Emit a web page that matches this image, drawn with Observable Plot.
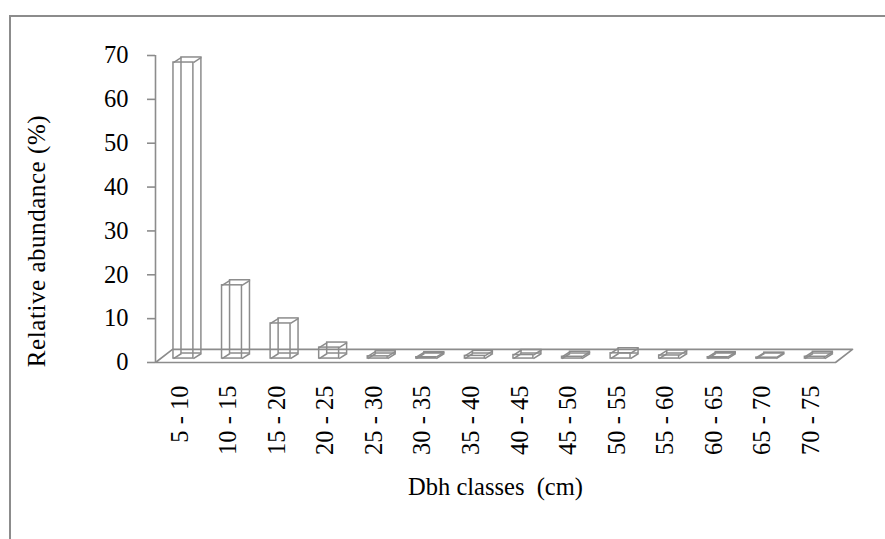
<!DOCTYPE html>
<html>
<head>
<meta charset="utf-8">
<script src="https://cdn.jsdelivr.net/npm/d3@7"></script>
<script src="https://cdn.jsdelivr.net/npm/@observablehq/plot@0.6"></script>
<style>
  html, body { margin: 0; padding: 0; background: #fff; overflow: hidden; }
  #frame { position: absolute; left: 9px; top: 15px; width: 900px; height: 560px; border: 2px solid #8c8c8c; box-sizing: border-box; }
  #chart { position: absolute; left: 0; top: 0; }
  #chart svg { font-family: "Liberation Serif", "Times New Roman", serif; }
</style>
</head>
<body>
<div id="frame"></div>
<div id="chart"></div>
<script>
// ---- data ----
const categories = ["5 - 10", "10 - 15", "15 - 20", "20 - 25", "25 - 30", "30 - 35", "35 - 40",
  "40 - 45", "45 - 50", "50 - 55", "55 - 60", "60 - 65", "65 - 70", "70 - 75"];
const values = [67.5, 16.7, 8.0, 2.5, 0.5, 0.3, 0.6, 0.8, 0.4, 1.2, 0.7, 0.3, 0.2, 0.4];
const yTicks = [0, 10, 20, 30, 40, 50, 60, 70];
const xTitle = "Dbh classes  (cm)";
const yTitle = "Relative abundance (%)";

// ---- 3D look (style constants) ----
const gray = "#8c8c8c";
const barStart = 0.37, barEnd = 0.78;       // within category band
const depthX = 0.165, depthY = 1.15;        // bar depth offsets
const base = 0.9;                           // bar base height on floor
const floorDX = 0.35, floorDY = 3.0;        // floor depth

const n = categories.length;
const bars = categories.map((c, i) => ({
  c, v: values[i],
  x1: i + barStart, x2: i + barEnd,
  y1: base, y2: base + values[i]
}));

const floorPts = [
  {x: 0, y: 0}, {x: n, y: 0}, {x: n + floorDX, y: floorDY},
  {x: floorDX, y: floorDY}, {x: 0, y: 0}
];

const edges = bars.flatMap(b => [
  {x1: b.x1, y1: b.y2, x2: b.x1 + depthX, y2: b.y2 + depthY},
  {x1: b.x2, y1: b.y2, x2: b.x2 + depthX, y2: b.y2 + depthY},
  {x1: b.x2, y1: b.y1, x2: b.x2 + depthX, y2: b.y1 + depthY},
  {x1: b.x1, y1: b.y1, x2: b.x1 + depthX, y2: b.y1 + depthY}
]);

const chart = Plot.plot({
  width: 885,
  height: 539,
  marginTop: 55,
  marginBottom: 177,
  marginLeft: 155,
  marginRight: 50,
  style: { fontFamily: "Liberation Serif", fontSize: "24.5px", color: "#000", background: "transparent" },
  x: {
    type: "linear",
    domain: [0, n],
    ticks: categories.map((c, i) => i + 0.5),
    tickFormat: d => categories[Math.floor(d)],
    tickRotate: -90,
    tickSize: 0,
    tickPadding: 23,
    label: null
  },
  y: {
    domain: [0, 70],
    ticks: yTicks,
    tickSize: 8,
    tickPadding: 19,
    label: null
  },
  marks: [
    Plot.line(floorPts, {x: "x", y: "y", stroke: gray, strokeWidth: 1.6}),
    Plot.ruleX([0], {y1: 0, y2: 70, stroke: gray, strokeWidth: 1.6}),
    Plot.rect(bars, {
      x1: d => d.x1 + depthX, x2: d => d.x2 + depthX,
      y1: d => d.y1 + depthY, y2: d => d.y2 + depthY,
      fill: "none", stroke: gray, strokeWidth: 1.5
    }),
    Plot.link(edges, {x1: "x1", y1: "y1", x2: "x2", y2: "y2", stroke: gray, strokeWidth: 1.5}),
    Plot.rect(bars, {x1: "x1", x2: "x2", y1: "y1", y2: "y2", fill: "none", stroke: gray, strokeWidth: 1.5}),
    Plot.text([xTitle], {frameAnchor: "bottom", dy: 132, fontSize: 24.5, fill: "#000"}),
    Plot.text([yTitle], {frameAnchor: "left", textAnchor: "middle", rotate: -90, dx: -119, dy: 32, fontSize: 25, fill: "#000"})
  ]
});

d3.select(chart).selectAll("g[aria-label='y-axis tick']").attr("stroke", gray).attr("stroke-width", 1.6);
d3.select(chart).selectAll("text").attr("fill", "#000");
d3.select(chart).selectAll("g[aria-label='text'] text").filter(function() { return this.textContent === yTitle; }).style("letter-spacing", "0.55px");
document.getElementById("chart").appendChild(chart);
</script>
</body>
</html>
